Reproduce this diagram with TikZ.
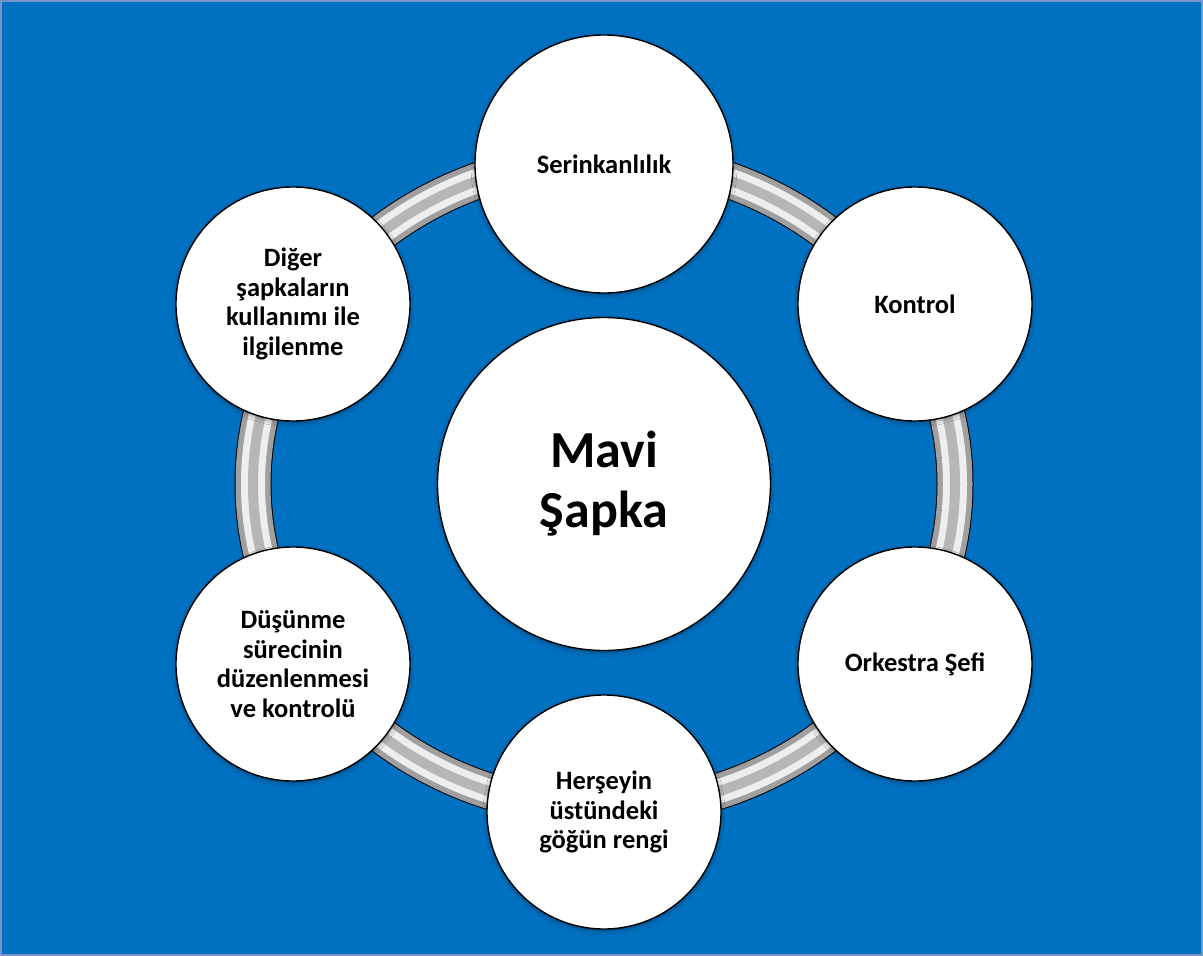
\documentclass[tikz,border=0pt]{standalone}
\usepackage{fontspec}
\setmainfont{Carlito}
\usetikzlibrary{shadows.blur}
\definecolor{bgblue}{RGB}{0,112,192}
\definecolor{framecol}{RGB}{118,148,200}
\definecolor{tubedark}{RGB}{160,160,160}
\definecolor{tubemid}{RGB}{182,182,182}
\definecolor{tubelight}{RGB}{238,238,238}
\tikzset{
  hat/.style={circle, draw=black, line width=1.4pt, fill=white, inner sep=0pt,
    align=center, minimum size=234pt, font=\bfseries\fontsize{26.5}{29.5}\selectfont,
    blur shadow={shadow xshift=0pt, shadow yshift=-2pt, shadow blur radius=4pt, shadow opacity=35}},
  tube/.style={line width=#1}
}
\begin{document}
\begin{tikzpicture}[x=1pt, y=-1pt]
  \useasboundingbox (0,0) rectangle (1203,956);
  \fill[bgblue] (0,0) rectangle (1203,956);
  \draw[framecol, line width=2pt] (1,1) rectangle (1202,955);
  \coordinate (hub) at (604,484);
  % ring
  \draw[black, tube=37pt] (hub) ellipse [x radius=351, y radius=325];
  \draw[tubedark, tube=35pt] (hub) ellipse [x radius=351, y radius=325];
  \draw[tubelight, tube=24pt] (hub) ellipse [x radius=351, y radius=325];
  \draw[tubemid, tube=10pt] (hub) ellipse [x radius=351, y radius=325];
  % hats
  \node[hat, minimum size=333pt, font=\bfseries\fontsize{52}{60}\selectfont] (mavi) at (hub) {Mavi\\Şapka};
  \node[hat, minimum size=258pt] (serin) at (604,164) {Serinkanlılık};
  \node[hat] (kontrol) at (915,304) {Kontrol};
  \node[hat] (orkestra) at (915,664) {Orkestra Şefi};
  \node[hat] (herseyin) at (604,812) {Herşeyin\\üstündeki\\göğün rengi};
  \node[hat] (dusunme) at (293,664) {Düşünme\\sürecinin\\düzenlenmesi\\ve kontrolü};
  \node[hat] (diger) at (293,304) {Diğer\\şapkaların\\kullanımı ile\\ilgilenme};
\end{tikzpicture}
\end{document}
